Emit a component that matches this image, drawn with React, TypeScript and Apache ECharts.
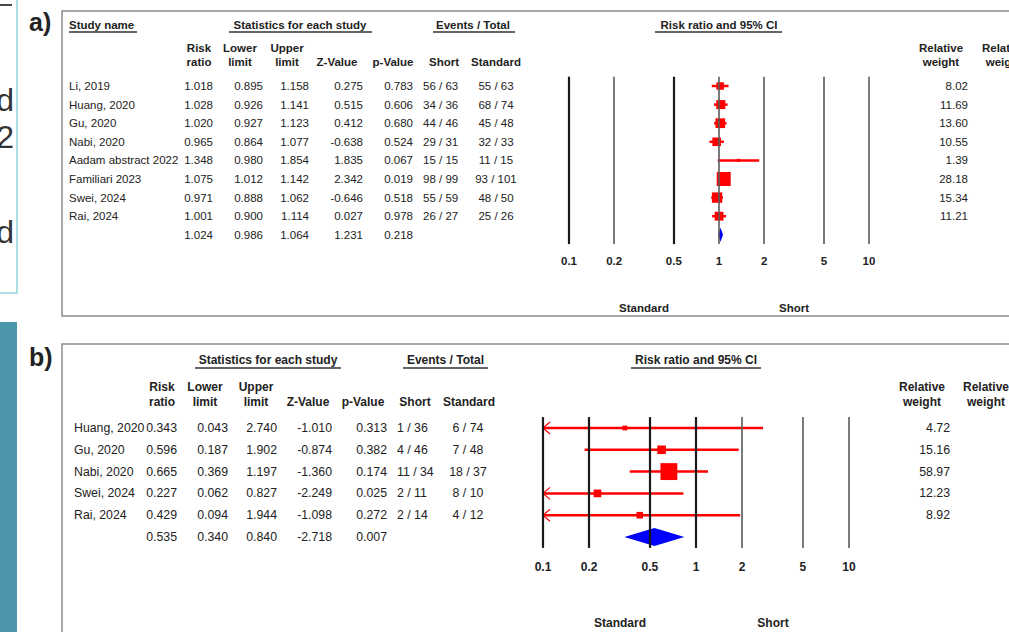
import React, { useEffect, useRef } from 'react';
import * as echarts from 'echarts';

// ---------- Data: panel a ----------
const A_STUDIES = ['Li, 2019', 'Huang, 2020', 'Gu, 2020', 'Nabi, 2020', 'Aadam abstract 2022', 'Familiari 2023', 'Swei, 2024', 'Rai, 2024'];
const A_RR = [1.018, 1.028, 1.020, 0.965, 1.348, 1.075, 0.971, 1.001];
const A_LOWER = [0.895, 0.926, 0.927, 0.864, 0.980, 1.012, 0.888, 0.900];
const A_UPPER = [1.158, 1.141, 1.123, 1.077, 1.854, 1.142, 1.062, 1.114];
const A_Z = [0.275, 0.515, 0.412, -0.638, 1.835, 2.342, -0.646, 0.027];
const A_P = [0.783, 0.606, 0.680, 0.524, 0.067, 0.019, 0.518, 0.978];
const A_SHORT = ['56 / 63', '34 / 36', '44 / 46', '29 / 31', '15 / 15', '98 / 99', '55 / 59', '26 / 27'];
const A_STANDARD = ['55 / 63', '68 / 74', '45 / 48', '32 / 33', '11 / 15', '93 / 101', '48 / 50', '25 / 26'];
const A_WEIGHT = [8.02, 11.69, 13.60, 10.55, 1.39, 28.18, 15.34, 11.21];
const A_POOLED = [1.024, 0.986, 1.064, 1.231, 0.218]; // rr, lower, upper, z, p

// ---------- Data: panel b ----------
const B_STUDIES = ['Huang, 2020', 'Gu, 2020', 'Nabi, 2020', 'Swei, 2024', 'Rai, 2024'];
const B_RR = [0.343, 0.596, 0.665, 0.227, 0.429];
const B_LOWER = [0.043, 0.187, 0.369, 0.062, 0.094];
const B_UPPER = [2.740, 1.902, 1.197, 0.827, 1.944];
const B_Z = [-1.010, -0.874, -1.360, -2.249, -1.098];
const B_P = [0.313, 0.382, 0.174, 0.025, 0.272];
const B_SHORT = ['1 / 36', '4 / 46', '11 / 34', '2 / 11', '2 / 14'];
const B_STANDARD = ['6 / 74', '7 / 48', '18 / 37', '8 / 10', '4 / 12'];
const B_WEIGHT = [4.72, 15.16, 58.97, 12.23, 8.92];
const B_POOLED = [0.535, 0.340, 0.840, -2.718, 0.007];

const X_TICKS = [0.1, 0.2, 0.5, 1, 2, 5, 10];
const X_MIN = 0.1;
const X_MAX = 10;

const FONT = '"Liberation Sans", Arial, Helvetica, sans-serif';
const INK = '#222222';

function txt(x: number, y: number, text: string, size: number, align = 'left', bold = false, color = INK) {
  return {
    type: 'text',
    silent: true,
    z: 10,
    style: {
      text,
      x,
      y,
      font: `${bold ? 'bold ' : ''}${size}px ${FONT}`,
      fill: color,
      align,
      verticalAlign: 'middle',
      textAlign: align,
      textVerticalAlign: 'middle',
    },
  };
}

function hline(x1: number, x2: number, y: number, color = '#333', w = 1.2) {
  return { type: 'line', silent: true, z: 10, shape: { x1, y1: y, x2, y2: y }, style: { stroke: color, lineWidth: w } };
}

type Panel = {
  studies: string[]; rr: number[]; lower: number[]; upper: number[]; z: number[]; p: number[];
  short: string[]; standard: string[]; weight: number[]; pooled: number[];
  top: number; rowH: number; gridLeft: number; gridWidth: number;
  font: number; hFont: number;
  cols: { name: number; rr: number; lo: number; hi: number; z: number; p: number; short: number; std: number; w: number };
  hdr: { rr: number; lo: number; hi: number; z: number; p: number; short: number; std: number; w1: number; w2: number; y1: number; y2: number };
  groups: { y: number; uy: number; items: { text: string; cx: number; u1: number; u2: number; left?: boolean }[] };
  bottomY: number; stdX: number; shortX: number;
  markK: number; lineW: number; diamondH: number; tickDist: number;
  darkLines: number[];
};

const PA: Panel = {
  studies: A_STUDIES, rr: A_RR, lower: A_LOWER, upper: A_UPPER, z: A_Z, p: A_P,
  short: A_SHORT, standard: A_STANDARD, weight: A_WEIGHT, pooled: A_POOLED,
  top: 76.7, rowH: 18.6, gridLeft: 569, gridWidth: 300, font: 11.5, hFont: 11.5,
  cols: { name: 69, rr: 213, lo: 263, hi: 309, z: 363, p: 413, short: 423, std: 496, w: 968 },
  hdr: { rr: 199, lo: 240, hi: 287, z: 337, p: 393, short: 444, std: 496, w1: 941, w2: 1004, y1: 48, y2: 62 },
  groups: {
    y: 25, uy: 32,
    items: [
      { text: 'Study name', cx: 69, u1: 69, u2: 137, left: true },
      { text: 'Statistics for each study', cx: 300, u1: 229, u2: 372 },
      { text: 'Events / Total', cx: 473, u1: 433, u2: 515 },
      { text: 'Risk ratio and 95% CI', cx: 719, u1: 655, u2: 782 },
    ],
  },
  bottomY: 308, stdX: 644, shortX: 794,
  markK: 2.64, lineW: 2.5, diamondH: 14, tickDist: 11,
  darkLines: [0.1, 0.5],
};

const PB: Panel = {
  studies: B_STUDIES, rr: B_RR, lower: B_LOWER, upper: B_UPPER, z: B_Z, p: B_P,
  short: B_SHORT, standard: B_STANDARD, weight: B_WEIGHT, pooled: B_POOLED,
  top: 417.1, rowH: 21.8, gridLeft: 543, gridWidth: 306, font: 12.3, hFont: 12,
  cols: { name: 74, rr: 177, lo: 228, hi: 277, z: 332, p: 387, short: 397, std: 468, w: 950 },
  hdr: { rr: 162, lo: 205, hi: 256, z: 308, p: 363, short: 415, std: 469, w1: 922, w2: 986, y1: 387, y2: 402 },
  groups: {
    y: 360, uy: 368,
    items: [
      { text: 'Statistics for each study', cx: 268, u1: 195, u2: 341 },
      { text: 'Events / Total', cx: 445.5, u1: 403, u2: 488 },
      { text: 'Risk ratio and 95% CI', cx: 696, u1: 631, u2: 761 },
    ],
  },
  bottomY: 623, stdX: 620, shortX: 773,
  markK: 2.2, lineW: 2.5, diamondH: 18, tickDist: 13,
  darkLines: [0.1, 0.2, 0.5, 1],
};

function panelGraphics(P: Panel) {
  const out: any[] = [];
  const n = P.studies.length + 1;
  const rowY = (i: number) => P.top + (i + 0.5) * P.rowH;
  const f = P.font;
  const hf = P.hFont;
  P.groups.items.forEach((g) => {
    out.push(txt(g.cx, P.groups.y, g.text, hf, g.left ? 'left' : 'center', true));
    out.push(hline(g.u1, g.u2, P.groups.uy, '#333', 1.3));
  });
  const H = P.hdr;
  out.push(txt(H.rr, H.y1, 'Risk', hf, 'center', true));
  out.push(txt(H.rr, H.y2, 'ratio', hf, 'center', true));
  out.push(txt(H.lo, H.y1, 'Lower', hf, 'center', true));
  out.push(txt(H.lo, H.y2, 'limit', hf, 'center', true));
  out.push(txt(H.hi, H.y1, 'Upper', hf, 'center', true));
  out.push(txt(H.hi, H.y2, 'limit', hf, 'center', true));
  out.push(txt(H.z, H.y2, 'Z-Value', hf, 'center', true));
  out.push(txt(H.p, H.y2, 'p-Value', hf, 'center', true));
  out.push(txt(H.short, H.y2, 'Short', hf, 'center', true));
  out.push(txt(H.std, H.y2, 'Standard', hf, 'center', true));
  out.push(txt(H.w1, H.y1, 'Relative', hf, 'center', true));
  out.push(txt(H.w1, H.y2, 'weight', hf, 'center', true));
  out.push(txt(H.w2, H.y1, 'Relative', hf, 'center', true));
  out.push(txt(H.w2, H.y2, 'weight', hf, 'center', true));
  const C = P.cols;
  P.studies.forEach((name, i) => {
    const y = rowY(i);
    out.push(txt(C.name, y, name, f, 'left'));
    out.push(txt(C.rr, y, P.rr[i].toFixed(3), f, 'right'));
    out.push(txt(C.lo, y, P.lower[i].toFixed(3), f, 'right'));
    out.push(txt(C.hi, y, P.upper[i].toFixed(3), f, 'right'));
    out.push(txt(C.z, y, P.z[i].toFixed(3), f, 'right'));
    out.push(txt(C.p, y, P.p[i].toFixed(3), f, 'right'));
    out.push(txt(C.short, y, P.short[i], f, 'left'));
    out.push(txt(C.std, y, P.standard[i], f, 'center'));
    out.push(txt(C.w, y, P.weight[i].toFixed(2), f, 'right'));
  });
  const yp = rowY(n - 1);
  [C.rr, C.lo, C.hi, C.z, C.p].forEach((x, k) => {
    out.push(txt(x, yp, P.pooled[k].toFixed(3), f, 'right'));
  });
  out.push(txt(P.stdX, P.bottomY, 'Standard', hf, 'center', true));
  out.push(txt(P.shortX, P.bottomY, 'Short', hf, 'center', true));
  return out;
}

function panelSeries(P: Panel, idx: number) {
  const n = P.studies.length + 1;
  const studyData = P.rr.map((rr, i) => [rr, P.lower[i], P.upper[i], n - 1 - i, P.weight[i]]);
  const pooledData = [[P.pooled[0], P.pooled[1], P.pooled[2], 0]];
  return [
    {
      type: 'line',
      xAxisIndex: idx,
      yAxisIndex: idx,
      data: [],
      silent: true,
      z: 1,
      markLine: {
        silent: true,
        symbol: 'none',
        animation: false,
        lineStyle: { color: '#333', width: 2, type: 'solid' },
        emphasis: { disabled: true },
        label: {
          show: true,
          position: 'start',
          distance: P.tickDist,
          formatter: (p: any) => String(p.value),
          fontWeight: 'bold',
          fontSize: P.hFont,
          fontFamily: FONT,
          color: INK,
        },
        data: X_TICKS.map((v) => ({
          xAxis: v,
          lineStyle: P.darkLines.indexOf(v) >= 0 ? { color: '#1a1a1a', width: 2.2 } : { color: '#5a5a5a', width: 1.6 },
        })),
      },
    },
    {
      type: 'custom',
      xAxisIndex: idx,
      yAxisIndex: idx,
      z: 3,
      clip: false,
      silent: true,
      encode: { x: [0, 1, 2], y: 3 },
      data: studyData,
      renderItem: (_params: any, api: any) => {
        const rr = api.value(0);
        const lo = api.value(1);
        const hi = api.value(2);
        const row = api.value(3);
        const w = api.value(4);
        const p0 = api.coord([Math.max(lo, X_MIN), row]);
        const p1 = api.coord([Math.min(hi, X_MAX), row]);
        const pc = api.coord([rr, row]);
        const s = P.markK * Math.sqrt(w);
        const children: any[] = [
          { type: 'line', shape: { x1: p0[0], y1: p0[1], x2: p1[0], y2: p1[1] }, style: { stroke: '#ff0000', lineWidth: P.lineW } },
          { type: 'rect', shape: { x: pc[0] - s / 2, y: pc[1] - s / 2, width: s, height: s }, style: { fill: '#ff0000' } },
        ];
        if (lo < X_MIN) {
          children.push({
            type: 'polyline',
            shape: { points: [[p0[0] + 7, p0[1] - 6], [p0[0], p0[1]], [p0[0] + 7, p0[1] + 6]] },
            style: { stroke: '#ff0000', lineWidth: 1.2, fill: 'none' },
          });
        }
        return { type: 'group', children };
      },
    },
    {
      type: 'custom',
      xAxisIndex: idx,
      yAxisIndex: idx,
      z: 4,
      clip: false,
      silent: true,
      encode: { x: [0, 1, 2], y: 3 },
      data: pooledData,
      renderItem: (_params: any, api: any) => {
        const c = api.coord([api.value(0), api.value(3)]);
        const l = api.coord([api.value(1), api.value(3)]);
        const r = api.coord([api.value(2), api.value(3)]);
        const h = P.diamondH / 2;
        return {
          type: 'polygon',
          shape: { points: [[l[0], l[1]], [c[0], c[1] - h], [r[0], r[1]], [c[0], c[1] + h]] },
          style: { fill: '#0000ff' },
        };
      },
    },
  ];
}

export default function App() {
  const ref = useRef<HTMLDivElement>(null);
  useEffect(() => {
    if (!ref.current) return;
    const chart = echarts.init(ref.current, undefined, { renderer: 'svg' });
    const nA = A_STUDIES.length + 1;
    const nB = B_STUDIES.length + 1;
    const graphics: any[] = [
      // slide fragments on the left edge (clipped in the source picture)
      { type: 'rect', silent: true, shape: { x: -10, y: -10, width: 27, height: 303 }, style: { fill: 'none', stroke: '#92d3db', lineWidth: 1.5 } },
      { type: 'rect', silent: true, shape: { x: 0, y: 322, width: 17, height: 320 }, style: { fill: '#4b95ad' } },
      hline(0, 12, 5, '#333', 1.8),
      txt(14, 100, 'd', 32, 'right', false, '#333'),
      txt(14, 137, '2', 32, 'right', false, '#333'),
      txt(14, 232, 'd', 32, 'right', false, '#333'),
      // panel frames
      { type: 'rect', silent: true, shape: { x: 62, y: 11, width: 1000, height: 305 }, style: { fill: 'none', stroke: '#8a8a8a', lineWidth: 1.5 } },
      { type: 'rect', silent: true, shape: { x: 62, y: 344, width: 1000, height: 400 }, style: { fill: 'none', stroke: '#8a8a8a', lineWidth: 1.5 } },
      txt(29, 22, 'a)', 25, 'left', true, '#222'),
      txt(29, 357, 'b)', 25, 'left', true, '#222'),
      ...panelGraphics(PA),
      ...panelGraphics(PB),
    ];
    chart.setOption({
      animation: false,
      backgroundColor: '#ffffff',
      grid: [
        { left: PA.gridLeft, width: PA.gridWidth, top: PA.top, height: nA * PA.rowH, containLabel: false },
        { left: PB.gridLeft, width: PB.gridWidth, top: PB.top, height: nB * PB.rowH, containLabel: false },
      ],
      xAxis: [
        { type: 'log', logBase: 10, min: X_MIN, max: X_MAX, gridIndex: 0, show: false },
        { type: 'log', logBase: 10, min: X_MIN, max: X_MAX, gridIndex: 1, show: false },
      ],
      yAxis: [
        { type: 'value', min: -0.5, max: nA - 0.5, gridIndex: 0, show: false, splitLine: { show: false } },
        { type: 'value', min: -0.5, max: nB - 0.5, gridIndex: 1, show: false, splitLine: { show: false } },
      ],
      graphic: graphics,
      series: [...panelSeries(PA, 0), ...panelSeries(PB, 1)],
    });
    return () => chart.dispose();
  }, []);
  return <div ref={ref} style={{ position: 'absolute', left: 0, top: 0, width: 1009, height: 632, background: '#fff' }} />;
}
